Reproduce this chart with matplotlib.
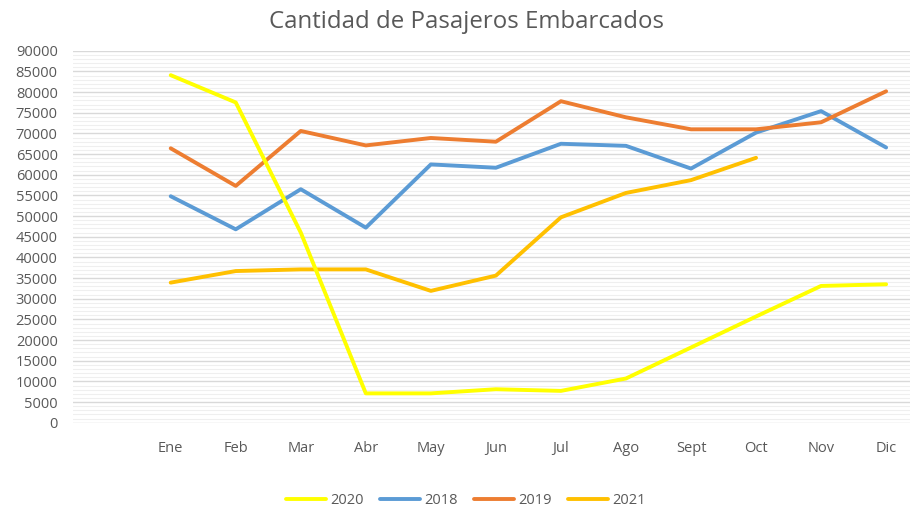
import numpy as np
import matplotlib
matplotlib.use("Agg")
import matplotlib.pyplot as plt
from matplotlib.ticker import MultipleLocator

plt.rcParams['font.family'] = ['Open Sans', 'DejaVu Sans']

meses = ["Ene", "Feb", "Mar", "Abr", "May", "Jun", "Jul", "Ago", "Sept", "Oct", "Nov", "Dic"]

pax_2020 = [84100, 77500, 46000, 7100, 7100, 8100, 7700, 10700, 18200, 25700, 33100, 33500]
pax_2018 = [54800, 46800, 56500, 47200, 62500, 61700, 67500, 67000, 61500, 70200, 75400, 66600]
pax_2019 = [66400, 57300, 70600, 67100, 68900, 68000, 77800, 73900, 71000, 71000, 72700, 80200]
pax_2021 = [33900, 36700, 37100, 37100, 31900, 35600, 49700, 55600, 58700, 64100]

series = [
    ("2020", pax_2020, "#FFFF00", 5),
    ("2018", pax_2018, "#5B9BD5", 3),
    ("2019", pax_2019, "#ED7D31", 3),
    ("2021", pax_2021, "#FFC000", 4),
]

fig = plt.figure(figsize=(9.12, 5.13), dpi=100)
ax = fig.add_axes([0.080, 0.176, 0.918, 0.725])

x = np.arange(len(meses))
for name, vals, col, z in series:
    ax.plot(x[:len(vals)], vals, color=col, lw=2.8, label=name, zorder=z,
            solid_capstyle='round', solid_joinstyle='round')

ax.set_xlim(-1.503, 11.37)
ax.set_ylim(0, 90000)
ax.yaxis.set_major_locator(MultipleLocator(5000))
ax.yaxis.set_minor_locator(MultipleLocator(1000))
ax.grid(which='major', axis='y', color='#d9d9d9', lw=1.0, zorder=0)
ax.grid(which='minor', axis='y', color='#efefef', lw=0.8, zorder=0)
ax.set_axisbelow(True)

ax.set_xticks(x)
ax.set_xticklabels(meses)
ax.tick_params(axis='both', length=0, labelsize=10.5, labelcolor='#595959')
ax.tick_params(axis='x', pad=13)
ax.tick_params(axis='y', pad=11)
ax.tick_params(which='minor', length=0)
for s in ax.spines.values():
    s.set_visible(False)

fig.text(0.511, 0.957, "Cantidad de Pasajeros Embarcados", ha='center', va='center',
         fontsize=17.3, color='#595959')

leg = fig.legend(loc='center', bbox_to_anchor=(0.511, 0.025), ncol=4, frameon=False,
                 fontsize=10.5, handlelength=2.75, columnspacing=1.1, handletextpad=0.3)
for t in leg.get_texts():
    t.set_color('#595959')

fig.savefig("out.png", dpi=100)
